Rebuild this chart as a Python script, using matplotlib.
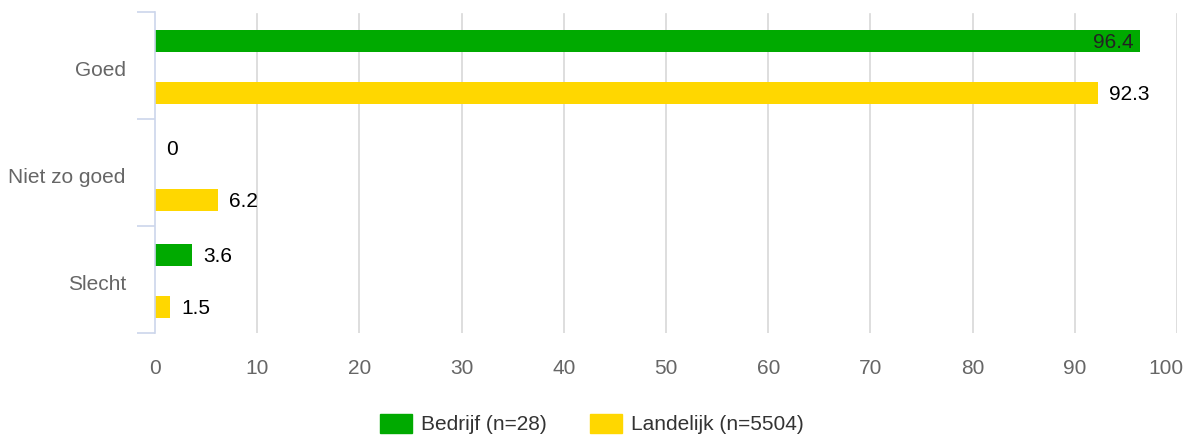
import matplotlib
matplotlib.use("Agg")
import matplotlib.pyplot as plt
import matplotlib.patches as mpatches
import matplotlib.transforms as mtransforms
import numpy as np

# Data ---------------------------------------------------------------------
categories = ["Goed", "Niet zo goed", "Slecht"]
bedrijf = [96.4, 0, 3.6]
landelijk = [92.3, 6.2, 1.5]
series_names = ["Bedrijf (n=28)", "Landelijk (n=5504)"]
x_ticks = [0, 10, 20, 30, 40, 50, 60, 70, 80, 90, 100]

GREEN = "#00aa00"
YELLOW = "#ffd700"
GRID = "#d8d8d8"
AXIS = "#ccd6eb"
LABEL = "#666666"
FS = 15

plt.rcParams["font.family"] = ["Liberation Sans", "DejaVu Sans"]

fig = plt.figure(figsize=(11.84, 4.41), dpi=100)
ax = fig.add_axes([155 / 1184, 1 - 333 / 441, (1177 - 155) / 1184, (333 - 12) / 441])

y = np.arange(len(categories))
h = 0.205
off_g = -0.228
off_y = 0.26
ax.barh(y + off_g, bedrijf, height=h, color=GREEN, zorder=3)
ax.barh(y + off_y, landelijk, height=h, color=YELLOW, zorder=3)

# data labels
for yi, v in zip(y, bedrijf):
    if v > 90:
        ax.annotate("%g" % v, (v, yi + off_g), xytext=(-5, -1), textcoords="offset points",
                    ha="right", va="center", fontsize=FS, color="#222222", zorder=4)
    else:
        ax.annotate("%g" % v, (v, yi + off_g), xytext=(8, -1), textcoords="offset points",
                    ha="left", va="center", fontsize=FS, color="#000000", zorder=4)
for yi, v in zip(y, landelijk):
    ax.annotate("%g" % v, (v, yi + off_y), xytext=(8, -1), textcoords="offset points",
                ha="left", va="center", fontsize=FS, color="#000000", zorder=4)

ax.set_xlim(0, 100)
ax.set_ylim(len(categories) - 0.5, -0.5)
ax.set_xticks(x_ticks)
ax.set_xticklabels([str(t) for t in x_ticks])
ax.tick_params(axis="x", length=0, pad=19, labelsize=FS, labelcolor=LABEL)
# last label kept inside the figure
last = ax.get_xticklabels()[-1]
last.set_horizontalalignment("right")
last.set_transform(last.get_transform() +
                   mtransforms.ScaledTranslation(6 / 100, 0, fig.dpi_scale_trans))

# category labels centred, tick marks at the boundaries
ax.set_yticks(y)
ax.set_yticklabels(categories)
ax.tick_params(axis="y", which="major", length=0, pad=21, labelsize=FS,
               labelcolor=LABEL)
for t in ax.get_yticklabels():
    t.set_transform(t.get_transform() +
                    mtransforms.ScaledTranslation(0, -3 / 100, fig.dpi_scale_trans))
ax.set_yticks(np.arange(-0.5, len(categories)), minor=True)
ax.tick_params(axis="y", which="minor", length=13, width=1.2, color=AXIS)

for t in x_ticks[1:]:
    ax.axvline(t, color=GRID, lw=1.2, zorder=1, ymin=0, ymax=0.995)

for s in ["top", "right", "bottom"]:
    ax.spines[s].set_visible(False)
ax.spines["left"].set_color(AXIS)
ax.spines["left"].set_linewidth(1.2)
ax.spines["left"].set_zorder(5)

handles = [mpatches.Patch(color=GREEN, label=series_names[0]),
           mpatches.Patch(color=YELLOW, label=series_names[1])]
leg = fig.legend(handles=handles, loc="center", bbox_to_anchor=(0.5, 1 - 424 / 441),
                 ncol=2, frameon=False, fontsize=FS, handlelength=1.5,
                 handleheight=1.05, columnspacing=2.1, handletextpad=0.45)
for t in leg.get_texts():
    t.set_color("#333333")

fig.savefig("out.png", dpi=100)
